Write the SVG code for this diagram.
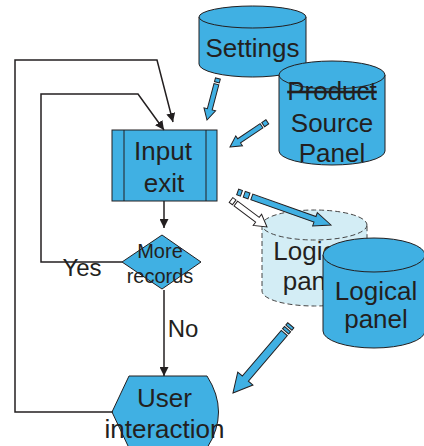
<svg xmlns="http://www.w3.org/2000/svg" width="424" height="446" viewBox="0 0 424 446">
  <style>
    .shape { fill: #40b0e3; stroke: #231f20; stroke-width: 1; }
    .ghost { fill: #d3edf5; stroke: #444; stroke-width: 1; stroke-dasharray: 5 3; }
    .lbl { font-family: "Liberation Sans", Arial, sans-serif; font-size: 26px; fill: #231f20; text-anchor: middle; }
    .small { font-size: 20px; }
    .flow { fill: none; stroke: #231f20; stroke-width: 1.5; }
    .pencil { fill: #40b0e3; stroke: #231f20; stroke-width: 1; stroke-linejoin: miter; }
    .pencil-open { fill: #ffffff; stroke: #231f20; stroke-width: 1; }
  </style>
  <defs>
    <marker id="head" markerUnits="userSpaceOnUse" markerWidth="10" markerHeight="9" refX="9" refY="4.5" orient="auto">
      <path d="M0,0 L9,4.5 L0,9 Z" fill="#231f20"/>
    </marker>
  </defs>

  <rect width="424" height="446" fill="#ffffff"/>

  <!-- Settings store -->
  <g id="settings">
    <path class="shape" d="M199,17 L199,64 A53.5,13 0 0 0 306,64 L306,17"/>
    <ellipse class="shape" cx="252.5" cy="17" rx="53.5" ry="11"/>
    <text class="lbl" x="252.5" y="57">Settings</text>
  </g>

  <!-- Product source panel store -->
  <g id="product-source-panel">
    <path class="shape" d="M279,75 L279,151 A53,14 0 0 0 385,151 L385,75"/>
    <ellipse class="shape" cx="332" cy="75" rx="53" ry="14"/>
    <text class="lbl" x="332" y="100" text-decoration="line-through">Product</text>
    <text class="lbl" x="332" y="132">Source</text>
    <text class="lbl" x="332" y="162">Panel</text>
  </g>

  <!-- Logical panel, previous state (dashed) -->
  <g id="logical-panel-old">
    <path class="ghost" d="M262,225 L262,291 A52.5,15 0 0 0 367,291 L367,225"/>
    <ellipse class="ghost" cx="314.5" cy="225" rx="52.5" ry="15"/>
    <text class="lbl" x="314.5" y="260">Logical</text>
    <text class="lbl" x="314.5" y="290">panel</text>
  </g>

  <!-- Logical panel store -->
  <g id="logical-panel">
    <path class="shape" d="M323,255 L323,331 A51,17 0 0 0 425,331 L425,255"/>
    <ellipse class="shape" cx="374" cy="255" rx="51" ry="17"/>
    <text class="lbl" x="376" y="300">Logical</text>
    <text class="lbl" x="376" y="328">panel</text>
  </g>

  <!-- Input exit process -->
  <g id="input-exit">
    <rect class="shape" x="112" y="130" width="105" height="71"/>
    <line x1="124" y1="130" x2="124" y2="201" stroke="#231f20" stroke-width="1"/>
    <line x1="206" y1="130" x2="206" y2="201" stroke="#231f20" stroke-width="1"/>
    <text class="lbl" x="163" y="160">Input</text>
    <text class="lbl" x="164" y="192">exit</text>
  </g>

  <!-- More records decision -->
  <g id="more-records">
    <polygon class="shape" points="162,235 201,262 162,289 122,262"/>
    <text class="lbl small" x="160" y="258">More</text>
    <text class="lbl small" x="160" y="283">records</text>
  </g>

  <!-- User interaction display -->
  <g id="user-interaction">
    <path class="shape" d="M112,412 L129,376 L207,376 Q230,412 207,448 L129,448 Z"/>
    <text class="lbl" x="164.5" y="407">User</text>
    <text class="lbl" x="164.5" y="438">interaction</text>
  </g>

  <g id="connectors">
    <line class="flow" x1="164" y1="201" x2="164" y2="228" marker-end="url(#head)"/>
    <line class="flow" x1="164" y1="290" x2="164" y2="376" marker-end="url(#head)"/>
    <polyline class="flow" points="122,262 41,262 41,94 138,94 164,130" marker-end="url(#head)"/>
    <polyline class="flow" points="113,412 15,412 15,60 157,60 173,122" marker-end="url(#head)"/>
    <text class="lbl" x="82" y="276" style="font-size:24px">Yes</text>
    <text class="lbl" x="183" y="337" style="font-size:24px">No</text>

    <!-- data flow arrows -->
    <g transform="translate(207,120) rotate(104.7)">
      <path class="pencil" d="M0,0 L-11,-6 L-11,-2.5 L-37,-2.5 L-37,2.5 L-11,2.5 L-11,6 Z"/>
      <rect class="pencil" x="-43" y="-2.5" width="4" height="5"/>
    </g>
    <g transform="translate(230,147) rotate(146)">
      <path class="pencil" d="M0,0 L-11,-6 L-11,-2.5 L-38,-2.5 L-38,2.5 L-11,2.5 L-11,6 Z"/>
      <rect class="pencil" x="-45" y="-2.5" width="5" height="5"/>
    </g>
    <g transform="translate(233,393) rotate(130.5)">
      <path class="pencil" d="M0,0 L-19,-10 L-19,-4 L-79,-4 L-79,4 L-19,4 L-19,10 Z"/>
      <rect class="pencil" x="-84" y="-4" width="3" height="8"/>
      <rect class="pencil" x="-89" y="-4" width="3" height="8"/>
    </g>
    <g transform="translate(331,225) rotate(19.5)">
      <path class="pencil" d="M0,0 L-17,-7 L-17,-3 L-84,-3 L-84,3 L-17,3 L-17,7 Z"/>
      <rect class="pencil" x="-92" y="-3" width="5" height="6"/>
      <rect class="pencil" x="-99" y="-3" width="4" height="6"/>
    </g>
    <g transform="translate(267,227) rotate(36.9)">
      <path class="pencil-open" d="M0,0 L-12,-7 L-12,-3 L-39,-3 L-39,3 L-12,3 L-12,7 Z"/>
      <rect class="pencil-open" x="-45" y="-3" width="4" height="6"/>
    </g>
  </g>
</svg>
